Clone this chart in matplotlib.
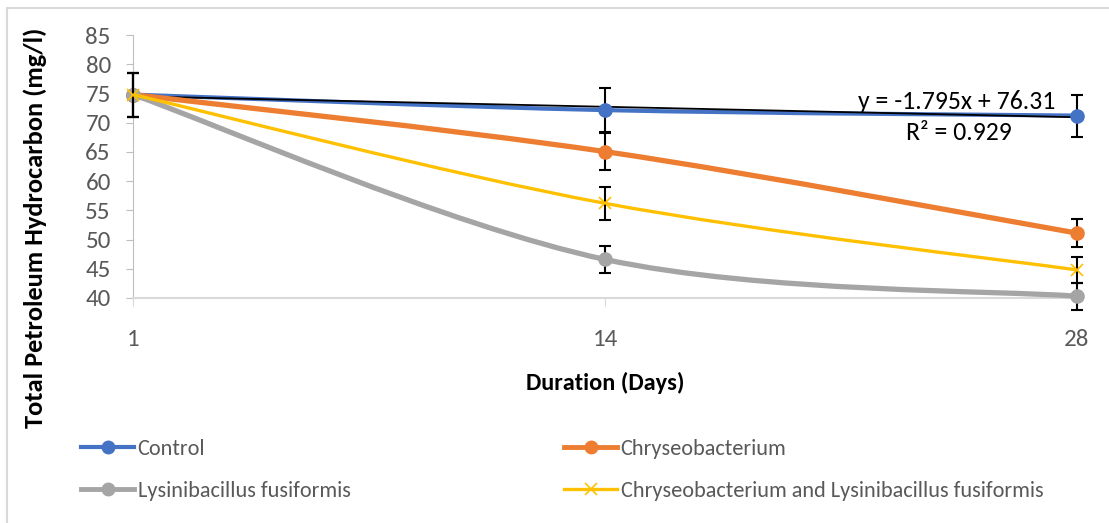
import numpy as np
import matplotlib
matplotlib.use("Agg")
import matplotlib.pyplot as plt
from matplotlib.path import Path
from matplotlib.patches import PathPatch, Rectangle
from matplotlib.lines import Line2D

# --- DATA ---
days = ["1", "14", "28"]
control = [74.80, 72.15, 71.21]
chryseo = [74.80, 65.05, 51.10]
lysini = [74.80, 46.60, 40.30]
combined = [74.80, 56.20, 44.80]

control_err = [3.75, 3.70, 3.60]
chryseo_err = [3.75, 3.20, 2.40]
lysini_err = [3.75, 2.30, 2.30]
combined_err = [3.75, 2.80, 2.20]

series_names = ["Control", "Chryseobacterium", "Lysinibacillus fusiformis",
                "Chryseobacterium and Lysinibacillus fusiformis"]
trend_text = "y = -1.795x + 76.31"
r2_text = "R² = 0.929"

BLUE = "#4472C4"
ORANGE = "#ED7D31"
GRAY = "#A5A5A5"
GOLD = "#FFC000"
TICK_COL = "#595959"

plt.rcParams['font.family'] = ['Carlito', 'Lato', 'DejaVu Sans']


def smooth_path(xs, ys):
    """Excel-style smoothed line: cubic Bezier through the points."""
    pts = np.column_stack([xs, ys]).astype(float)
    n = len(pts)
    verts = [pts[0]]
    codes = [Path.MOVETO]
    for i in range(n - 1):
        p_prev = pts[max(i - 1, 0)]
        p0, p1 = pts[i], pts[i + 1]
        p_next = pts[min(i + 2, n - 1)]
        c1 = p0 + (p1 - p_prev) / 6.0
        c2 = p1 - (p_next - p0) / 6.0
        verts += [c1, c2, p1]
        codes += [Path.CURVE4] * 3
    return Path(verts, codes)


fig = plt.figure(figsize=(11.09, 5.23), dpi=100)
ax = fig.add_axes([133 / 1109, 1 - 298 / 523, (1077 - 133) / 1109, (298 - 35) / 523])

# chart border (Excel chart area)
fig.patches.append(Rectangle((7 / 1109, -0.05), 1.1, 1 - 8 / 523 + 0.05,
                             transform=fig.transFigure, fill=False,
                             edgecolor="#D9D9D9", linewidth=1.5))

x = np.arange(len(days))

plot_specs = [
    (control, control_err, BLUE, 3.0, "o"),
    (chryseo, chryseo_err, ORANGE, 3.8, "o"),
    (lysini, lysini_err, GRAY, 3.8, "o"),
    (combined, combined_err, GOLD, 2.4, "x"),
]

for i, (vals, err, col, lw, mk) in enumerate(plot_specs):
    patch = PathPatch(smooth_path(x, vals), facecolor="none", edgecolor=col,
                      linewidth=lw, capstyle="round", zorder=2 + i, clip_on=False)
    ax.add_patch(patch)
    ax.errorbar(x, vals, yerr=err, fmt="none", ecolor="black", elinewidth=1.5,
                capsize=4, capthick=1.5, zorder=2 + i, clip_on=False)
    if mk == "o":
        ax.plot(x, vals, linestyle="none", marker="o", markersize=9.5,
                color=col, zorder=2.5 + i, clip_on=False)
    else:
        ax.plot(x, vals, linestyle="none", marker="x", markersize=9,
                markeredgewidth=1.2, color=col, zorder=2.5 + i, clip_on=False)

# linear trendline on the control series
coef = np.polyfit(x + 1, control, 1)
ax.plot(x, np.polyval(coef, x + 1), color="black", linewidth=1.3, zorder=2.2,
        clip_on=False)
ax.text(1.746, 73.6, trend_text, ha="center", va="center", fontsize=18.5, color="black")
ax.text(1.75, 68.3, r2_text, ha="center", va="center", fontsize=18.5, color="black")

ax.set_xlim(0, 2)
ax.set_ylim(40, 85)
ax.set_yticks(np.arange(40, 86, 5))
ax.set_xticks(x)
ax.set_xticklabels(days)

for s in ["top", "right"]:
    ax.spines[s].set_visible(False)
ax.spines["left"].set_color("#BFBFBF")
ax.spines["bottom"].set_color("#D9D9D9")
ax.spines["bottom"].set_linewidth(1.5)
ax.tick_params(axis="y", colors="#BFBFBF", labelcolor=TICK_COL, labelsize=18,
               length=5, pad=11)
ax.tick_params(axis="x", colors="#D9D9D9", labelcolor=TICK_COL, labelsize=18,
               length=6, pad=16)

ax.set_xlabel("Duration (Days)", fontsize=17.5, fontweight="bold", labelpad=16)
fig.text(35 / 1109, 1 - 228 / 523, "Total Petroleum Hydrocarbon (mg/l)",
         rotation=90, ha="center", va="center", fontsize=19, fontweight="bold")

handles = [
    Line2D([], [], color=BLUE, linewidth=3, marker="o", markersize=9),
    Line2D([], [], color=ORANGE, linewidth=3.5, marker="o", markersize=9),
    Line2D([], [], color=GRAY, linewidth=3.5, marker="o", markersize=9),
    Line2D([], [], color=GOLD, linewidth=2.4, marker="x", markersize=9,
           markeredgewidth=1.2),
]
# column-major fill: reorder so rows read Control | Chryseo, Lysini | combined
order = [0, 2, 1, 3]
fig.legend([handles[k] for k in order], [series_names[k] for k in order],
           ncol=2, loc="center left",
           bbox_to_anchor=(61 / 1109, 1 - 470 / 523), frameon=False,
           fontsize=16, handlelength=2.4, handletextpad=0.15,
           columnspacing=9.6, labelspacing=1.0, labelcolor=TICK_COL)

plt.savefig("out.png", dpi=100)
plt.close()
